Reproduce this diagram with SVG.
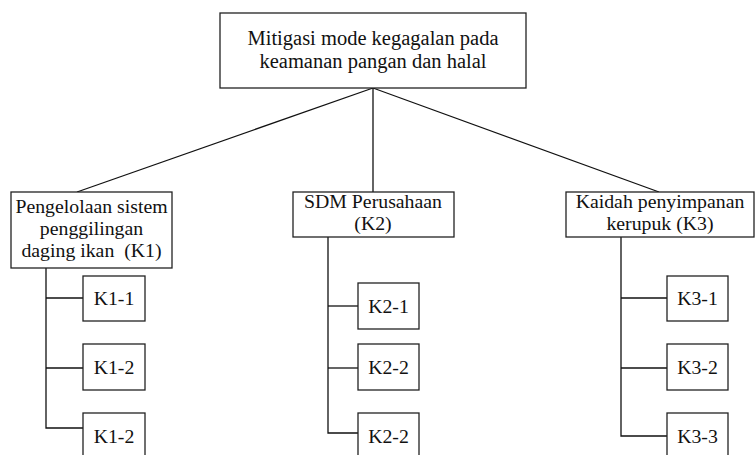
<svg xmlns="http://www.w3.org/2000/svg" width="755" height="455" viewBox="0 0 755 455">
<style>
rect{fill:#fff;stroke:#222;stroke-width:1.3}
text{font-family:"Liberation Serif","Times New Roman",serif;font-size:19.8px;fill:#111;text-anchor:middle}
.t{font-size:20.5px}
.c line,.c polyline{stroke:#111;stroke-width:1.3;fill:none}
</style>
<rect x="0" y="0" width="755" height="455" style="fill:#fff;stroke:none"/>
<g class="c" id="connectors">
<line x1="373" y1="88" x2="77" y2="192"/>
<line x1="373" y1="88" x2="373" y2="192"/>
<line x1="373" y1="88" x2="659" y2="192"/>
<polyline points="46,268 46,428 83,428"/>
<line x1="46" y1="298" x2="83" y2="298"/>
<line x1="46" y1="368" x2="83" y2="368"/>
<polyline points="328,237 328,433 358,433"/>
<line x1="328" y1="306" x2="358" y2="306"/>
<line x1="328" y1="368" x2="358" y2="368"/>
<polyline points="621,237 621,436 667,436"/>
<line x1="621" y1="298" x2="667" y2="298"/>
<line x1="621" y1="368" x2="667" y2="368"/>
</g>
<g id="root">
<rect x="220" y="13" width="306" height="75"/>
<text class="t" x="373" y="45">Mitigasi mode kegagalan pada</text>
<text class="t" x="373" y="68">keamanan pangan dan halal</text>
</g>
<g id="k1">
<rect x="11" y="192" width="161" height="76"/>
<text x="91.5" y="213">Pengelolaan sistem</text>
<text x="91.5" y="235">penggilingan</text>
<text x="91.5" y="257">daging ikan &#160;(K1)</text>
</g>
<g id="k2">
<rect x="293" y="192" width="161" height="45"/>
<text x="373" y="208">SDM Perusahaan</text>
<text x="373" y="230">(K2)</text>
</g>
<g id="k3">
<rect x="566" y="192" width="188" height="45"/>
<text x="660" y="208">Kaidah penyimpanan</text>
<text x="660" y="230">kerupuk (K3)</text>
</g>
<g id="k1-1"><rect x="83" y="276" width="62" height="45"/><text x="114" y="305">K1-1</text></g>
<g id="k1-2"><rect x="83" y="344" width="62" height="46"/><text x="114" y="374">K1-2</text></g>
<g id="k1-3"><rect x="83" y="413" width="62" height="46"/><text x="114" y="443">K1-2</text></g>
<g id="k2-1"><rect x="358" y="283" width="61" height="46"/><text x="388.5" y="313">K2-1</text></g>
<g id="k2-2"><rect x="358" y="344" width="61" height="46"/><text x="388.5" y="374">K2-2</text></g>
<g id="k2-3"><rect x="358" y="413" width="61" height="46"/><text x="388.5" y="443">K2-2</text></g>
<g id="k3-1"><rect x="667" y="276" width="61" height="45"/><text x="697.5" y="305">K3-1</text></g>
<g id="k3-2"><rect x="667" y="344" width="61" height="46"/><text x="697.5" y="374">K3-2</text></g>
<g id="k3-3"><rect x="667" y="413" width="61" height="46"/><text x="697.5" y="443">K3-3</text></g>
</svg>
